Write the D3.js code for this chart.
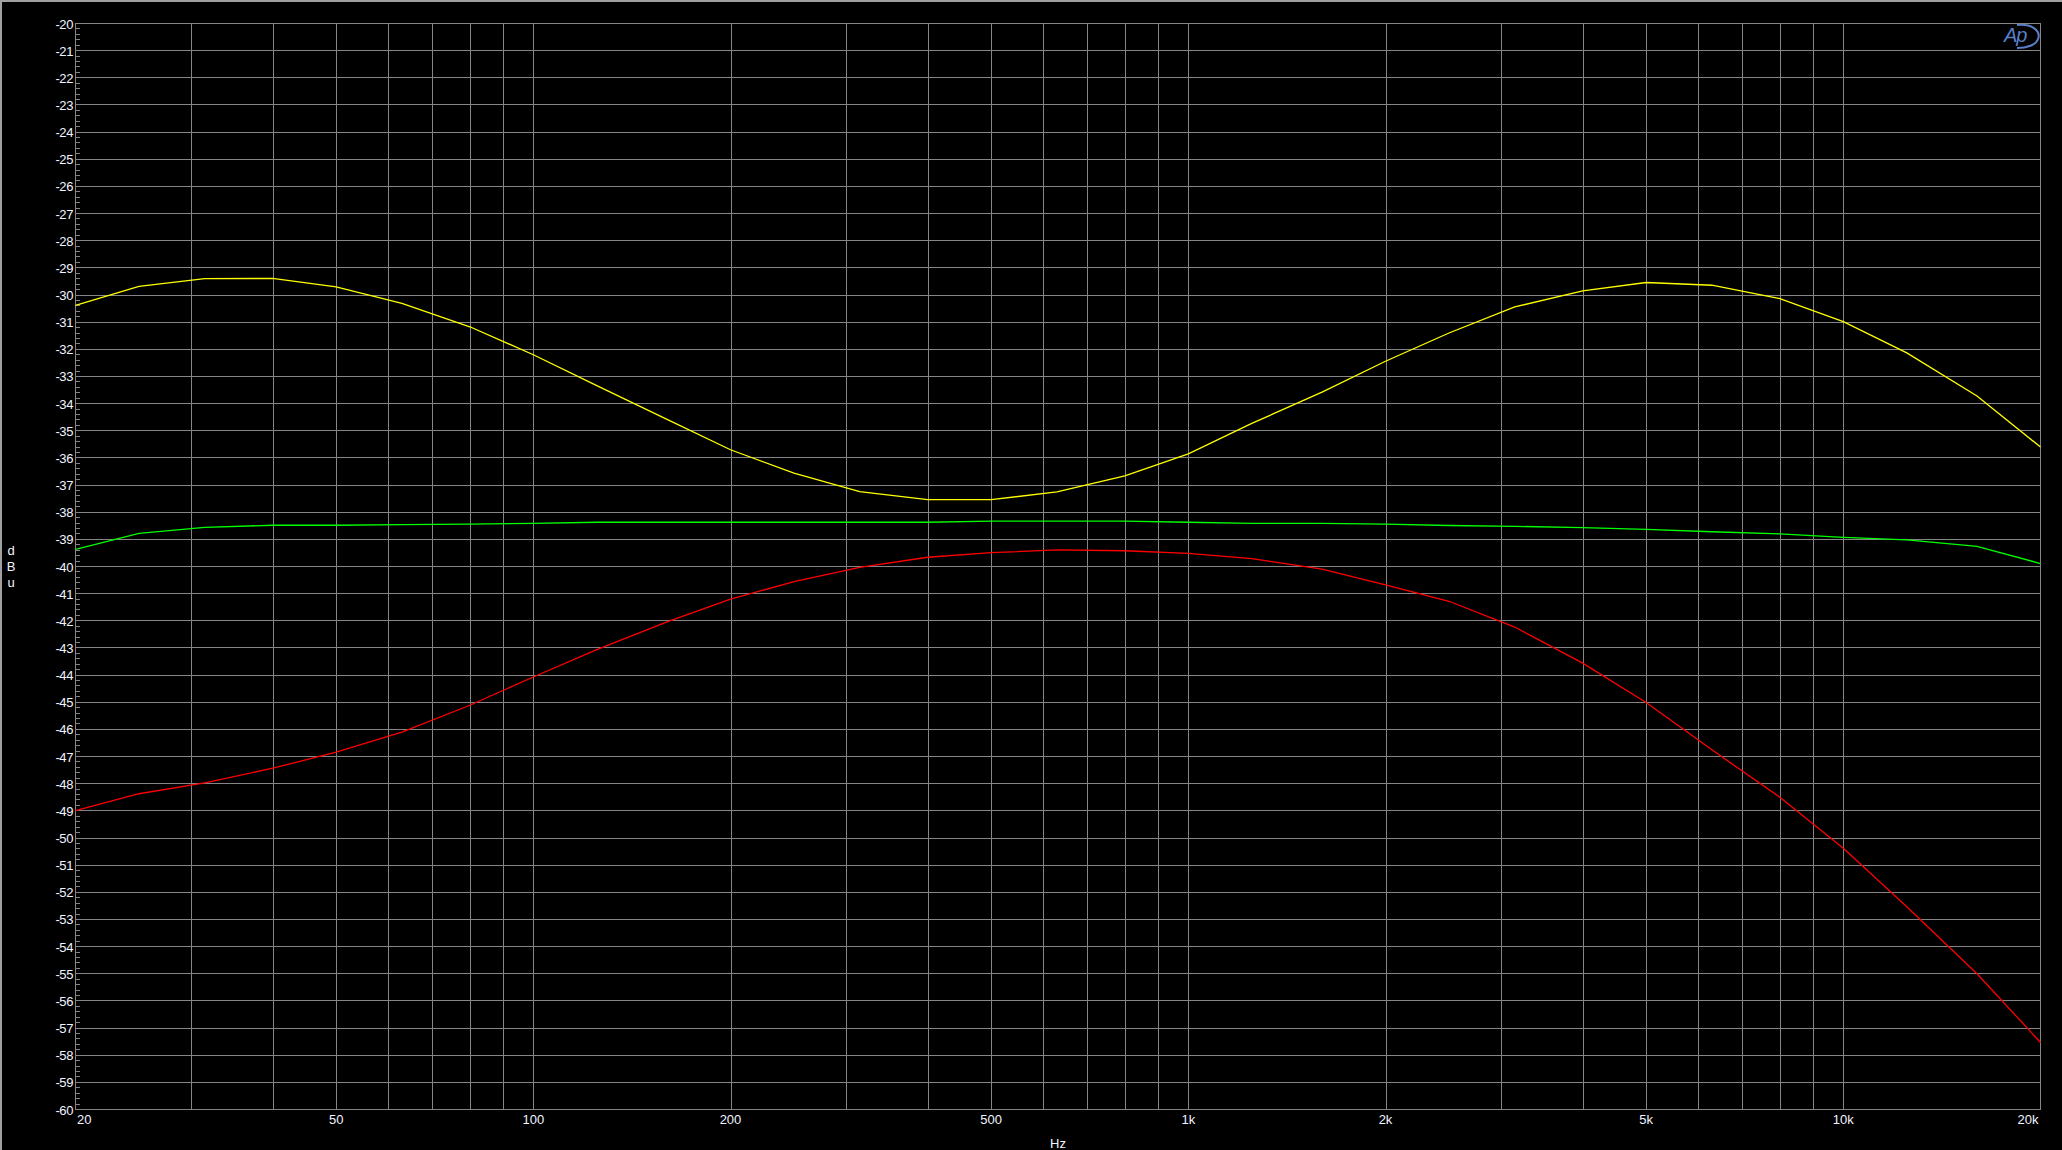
<!DOCTYPE html>
<html>
<head>
<meta charset="utf-8">
<script src="https://cdn.jsdelivr.net/npm/d3@7"></script>
<style>
  html, body { margin: 0; padding: 0; background: #000; }
  svg { display: block; }
</style>
</head>
<body>
<svg id="chart" width="2062" height="1150"></svg>
<script>
// ---- data ----
const freqs = [20,25,31.5,40,50,63,80,100,125,160,200,250,315,400,500,630,800,1000,1250,1600,2000,2500,3150,4000,5000,6300,8000,10000,12500,16000,20000];
const yellowSeries = [-30.38,-29.68,-29.40,-29.39,-29.70,-30.31,-31.17,-32.20,-33.34,-34.58,-35.70,-36.56,-37.24,-37.54,-37.54,-37.25,-36.66,-35.85,-34.73,-33.58,-32.44,-31.40,-30.44,-29.85,-29.54,-29.64,-30.13,-30.98,-32.13,-33.72,-35.60];
const greenSeries = [-39.37,-38.78,-38.56,-38.48,-38.48,-38.46,-38.44,-38.41,-38.37,-38.37,-38.37,-38.37,-38.37,-38.37,-38.33,-38.33,-38.33,-38.37,-38.41,-38.41,-38.44,-38.49,-38.52,-38.57,-38.63,-38.72,-38.80,-38.93,-39.02,-39.26,-39.89];
const redSeries = [-48.99,-48.37,-47.97,-47.43,-46.84,-46.10,-45.11,-44.07,-43.06,-42.04,-41.20,-40.56,-40.03,-39.66,-39.49,-39.39,-39.42,-39.52,-39.71,-40.10,-40.68,-41.28,-42.23,-43.56,-45.01,-46.75,-48.50,-50.38,-52.53,-55.00,-57.53];
const xTickValues = [20,50,100,200,500,1000,2000,5000,10000,20000];
const xTickLabels = ["20","50","100","200","500","1k","2k","5k","10k","20k"];
const xGridValues = [30,40,50,60,70,80,90,100,200,300,400,500,600,700,800,900,1000,2000,3000,4000,5000,6000,7000,8000,9000,10000];
const yTickValues = d3.range(-20, -61, -1);

// ---- layout ----
const svg = d3.select("#chart");
const L = 75.5, R = 2040.5, T = 23.5, B = 1109.5;
const x = d3.scaleLog().domain([20, 20000]).range([L, R]);
const y = d3.scaleLinear().domain([-60, -20]).range([B, T]);
const gridColor = "#858585";
const font = "'Liberation Sans', Arial, sans-serif";

svg.append("rect").attr("width", 2062).attr("height", 1150).attr("fill", "#000");
// window border (left/top)
svg.append("line").attr("x1", 1).attr("x2", 1).attr("y1", 0).attr("y2", 1150)
  .attr("stroke", "#a0a0a0").attr("stroke-width", 2);
svg.append("line").attr("x1", 0).attr("x2", 2062).attr("y1", 1).attr("y2", 1)
  .attr("stroke", "#a0a0a0").attr("stroke-width", 2);

const grid = svg.append("g").attr("shape-rendering", "crispEdges");
grid.selectAll(".vg").data(xGridValues).join("line")
  .attr("x1", d => Math.round(x(d)) + 0.5).attr("x2", d => Math.round(x(d)) + 0.5)
  .attr("y1", T).attr("y2", B).attr("stroke", gridColor).attr("stroke-width", 1);
grid.selectAll(".hg").data(yTickValues.filter(d => d > -60 && d < -20)).join("line")
  .attr("y1", d => Math.round(y(d) - 0.5) + 0.5).attr("y2", d => Math.round(y(d) - 0.5) + 0.5)
  .attr("x1", L).attr("x2", R).attr("stroke", gridColor).attr("stroke-width", 1);
// minor y ticks every 0.2 dB
const minor = d3.range(0, 200).map(i => -20 - i * 0.2).filter((d, i) => i % 5 !== 0);
grid.selectAll(".mt").data(minor).join("line")
  .attr("y1", d => Math.round(y(d) - 0.5) + 0.5).attr("y2", d => Math.round(y(d) - 0.5) + 0.5)
  .attr("x1", L).attr("x2", L + 4.5).attr("stroke", gridColor).attr("stroke-width", 1);
// frame
grid.append("rect").attr("x", L).attr("y", T).attr("width", R - L).attr("height", B - T)
  .attr("fill", "none").attr("stroke", gridColor).attr("stroke-width", 1);

// y labels
svg.append("g").selectAll("text").data(yTickValues).join("text")
  .attr("x", 73).attr("y", d => y(d) + 5)
  .attr("text-anchor", "end").attr("fill", "#f2f4ff")
  .attr("font-family", font).attr("font-size", 13).attr("letter-spacing", -0.4)
  .text(d => d);

// x labels
svg.append("g").selectAll("text").data(xTickValues).join("text")
  .attr("x", (d, i) => i === 0 ? x(d) + 1.5 : (i === xTickValues.length - 1 ? x(d) - 2 : x(d)))
  .attr("y", 1124)
  .attr("text-anchor", (d, i) => i === 0 ? "start" : (i === xTickValues.length - 1 ? "end" : "middle"))
  .attr("fill", "#f2f4ff").attr("font-family", font).attr("font-size", 13)
  .text((d, i) => xTickLabels[i]);

// axis titles
svg.append("text").attr("x", (L + R) / 2).attr("y", 1148).attr("text-anchor", "middle")
  .attr("fill", "#f2f4ff").attr("font-family", font).attr("font-size", 13).text("Hz");
const yl = svg.append("text").attr("fill", "#f2f4ff").attr("font-family", font).attr("font-size", 13)
  .attr("text-anchor", "middle");
["d", "B", "u"].forEach((c, i) => yl.append("tspan").attr("x", 11).attr("y", 555 + i * 16).text(c));

// curves
const line = d3.line().x(d => x(d[0])).y(d => y(d[1])).curve(d3.curveLinear);
const curves = [
  { vals: yellowSeries, color: "#ffff00" },
  { vals: greenSeries, color: "#00ff00" },
  { vals: redSeries, color: "#ff0000" }
];
const cg = svg.append("g");
curves.forEach(c => {
  cg.append("path").datum(freqs.map((f, i) => [f, c.vals[i]]))
    .attr("d", line).attr("fill", "none").attr("stroke", c.color)
    .attr("stroke-width", 1.3);
});

// Ap logo
const logo = svg.append("g").attr("transform", "translate(2003,24)");
logo.append("text").attr("x", 1).attr("y", 18).attr("font-family", font)
  .attr("font-style", "italic").attr("font-size", 20).attr("fill", "#5a7fc8")
  .attr("letter-spacing", -1).text("Ap");
logo.append("path")
  .attr("d", "M14,1 C30,-1 38,8 35,15 C33,21 24,24 14,24")
  .attr("fill", "none").attr("stroke", "#5a7fc8").attr("stroke-width", 2);
</script>
</body>
</html>
